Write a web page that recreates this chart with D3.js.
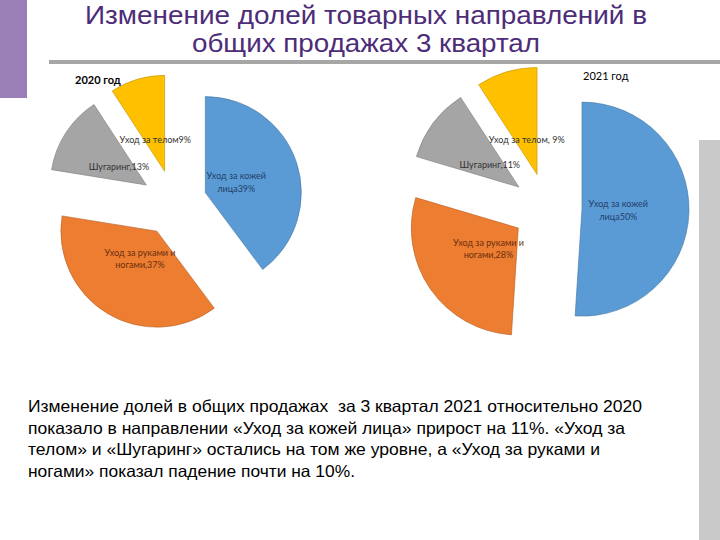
<!DOCTYPE html>
<html><head><meta charset="utf-8">
<script src="https://cdn.jsdelivr.net/npm/d3@7"></script>
<style>html,body{margin:0;padding:0;background:#fff;}svg{display:block;}</style>
</head><body>
<svg id="c" width="720" height="540"></svg>
<script>
const titleLines = ["Изменение долей товарных направлений в", "общих продажах 3 квартал"];
const categories = ["Уход за кожей лица", "Уход за руками и ногами", "Шугаринг", "Уход за телом"];
const colors = ["#5B9BD5", "#ED7D31", "#A5A5A5", "#FFC000"];
const labelColors = ["#223f6a", "#6a2f0e", "#333333", "#333333"];
const years = ["2020 год", "2021 год"];
const values2020 = [39, 37, 13, 9];
const values2021 = [50, 28, 11, 9];
const labelLines2020 = [["Уход за кожей", "лица"], ["Уход за руками и", "ногами,"], ["Шугаринг,"], ["Уход за телом"]];
const labelLines2021 = [["Уход за кожей", "лица"], ["Уход за руками и", "ногами,"], ["Шугаринг,"], ["Уход за телом, "]];
const paragraphLines = [
  "Изменение долей в общих продажах  за 3 квартал 2021 относительно 2020",
  "показало в направлении «Уход за кожей лица» прирост на 11%. «Уход за",
  "телом» и «Шугаринг» остались на том же уровне, а «Уход за руками и",
  "ногами» показал падение почти на 10%."
];

const svg = d3.select("#c");

// decorations
svg.append("rect").attr("x", 0).attr("y", 0).attr("width", 27).attr("height", 98).attr("fill", "#9A7FB6");
svg.append("rect").attr("x", 49).attr("y", 60).attr("width", 671).attr("height", 4).attr("fill", "#A6A6A6");
svg.append("rect").attr("x", 699).attr("y", 140).attr("width", 21).attr("height", 400).attr("fill", "#C9C9C9");

// title
const titleLen = [562, 348];
svg.selectAll("text.title").data(titleLines).join("text")
  .attr("class", "title")
  .attr("x", 366).attr("y", (d, i) => 24 + i * 27.5)
  .attr("text-anchor", "middle")
  .attr("font-family", "Liberation Sans, Arial, sans-serif")
  .attr("font-size", 26)
  .attr("fill", "#4D2C78")
  .attr("textLength", (d, i) => titleLen[i])
  .attr("lengthAdjust", "spacingAndGlyphs")
  .text(d => d);

// pies
function drawPie(values, labels, cx, cy, r, explode, yearLabel, yx, yy, bold) {
  const g = svg.append("g").attr("transform", `translate(${cx},${cy})`);
  const pie = d3.pie().sort(null).value(d => d)(values);
  const arc = d3.arc().innerRadius(0).outerRadius(r);
  const lr = 0.34 * r;
  const labelArc = d3.arc().innerRadius(lr).outerRadius(lr);
  const off = d => {
    const m = (d.startAngle + d.endAngle) / 2;
    return [explode * Math.sin(m), -explode * Math.cos(m)];
  };
  const slices = g.selectAll("g.s").data(pie).join("g")
    .attr("class", "s")
    .attr("transform", d => { const o = off(d); return `translate(${o[0]},${o[1]})`; });
  slices.append("path").attr("d", arc)
    .attr("fill", (d, i) => colors[i])
    .attr("stroke", (d, i) => d3.color(colors[i]).darker(0.8))
    .attr("stroke-width", 0.6);
  slices.each(function (d, i) {
    const c = labelArc.centroid(d);
    const lines = labels[i].slice();
    lines[lines.length - 1] = lines[lines.length - 1] + d.data + "%";
    const t = d3.select(this).append("text")
      .attr("text-anchor", "middle")
      .attr("font-family", "Lato, 'Open Sans', sans-serif")
      .attr("font-size", 9)
      .attr("fill", labelColors[i]);
    const n = lines.length;
    lines.forEach((ln, k) => {
      t.append("tspan").attr("x", c[0]).attr("y", c[1] + 3 + (k - (n - 1) / 2) * 12.5).text(ln);
    });
  });
  svg.append("text").attr("x", yx).attr("y", yy)
    .attr("font-family", "Lato, 'Open Sans', sans-serif")
    .attr("font-size", 11).attr("font-weight", bold ? "bold" : "normal")
    .attr("fill", "#000").text(yearLabel);
}

drawPie(values2020, labelLines2020, 174, 203, 96, 33, years[0], 75, 84, true);
drawPie(values2021, labelLines2021, 547, 208, 107, 35, years[1], 583, 80, false);

// paragraph
const paraLen = [614, 597, 572, 327];
svg.selectAll("text.para").data(paragraphLines).join("text")
  .attr("class", "para")
  .attr("x", 28).attr("y", (d, i) => 412 + i * 21.6)
  .attr("font-family", "Liberation Sans, Arial, sans-serif")
  .attr("font-size", 16.5)
  .attr("fill", "#000")
  .attr("textLength", (d, i) => paraLen[i])
  .attr("lengthAdjust", "spacingAndGlyphs")
  .style("white-space", "pre")
  .text(d => d);
</script>
</body></html>
